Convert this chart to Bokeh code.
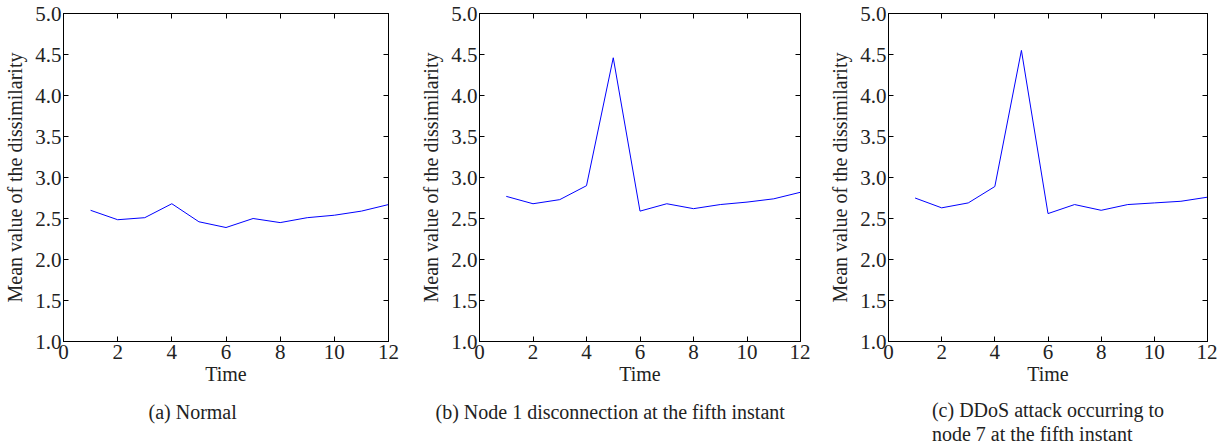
from bokeh.plotting import figure
from bokeh.layouts import row
from bokeh.models import (LinearAxis, FixedTicker, PrintfTickFormatter,
                          CustomJSTickFormatter, Range1d, Title)
from bokeh.embed import file_html
from bokeh.resources import INLINE

time = [1, 2, 3, 4, 5, 6, 7, 8, 9, 10, 11, 12]
normal = [2.60, 2.485, 2.51, 2.68, 2.46, 2.39, 2.50, 2.45, 2.51, 2.54, 2.59, 2.67]
node1_disconnect = [2.77, 2.68, 2.73, 2.90, 4.46, 2.59, 2.68, 2.62, 2.67, 2.70, 2.74, 2.82]
ddos_node7 = [2.75, 2.63, 2.69, 2.89, 4.55, 2.56, 2.67, 2.60, 2.67, 2.69, 2.71, 2.76]

x_ticks = [0, 2, 4, 6, 8, 10, 12]
y_ticks = [1.0, 1.5, 2.0, 2.5, 3.0, 3.5, 4.0, 4.5, 5.0]
x_label = "Time"
y_label = "Mean value of the dissimilarity"
captions = [
    "(a) Normal",
    "(b) Node 1 disconnection at the fifth instant",
    "(c) DDoS attack occurring to\nnode 7 at the fifth instant",
]
series = [normal, node1_disconnect, ddos_node7]

FONT = "Liberation Serif"
# (left border, frame width, right border, caption align, caption offset px, standoff)
panel_geom = [(63, 325, 12, "left", 85, 22),
              (79, 321, 10, "left", -44, 22),
              (78, 319, 10, "center", 0, 20)]

figs = []
for i, (vals, (lb, fw, rb, al, off, so)) in enumerate(zip(series, panel_geom)):
    p = figure(frame_width=fw, frame_height=328, output_backend="svg",
               toolbar_location=None, x_range=Range1d(0, 12),
               y_range=Range1d(1.0, 5.0), min_border_left=lb,
               min_border_right=rb, min_border_top=13, min_border_bottom=107,
               background_fill_color="white", border_fill_color="white")
    p.grid.visible = False
    p.outline_line_color = "black"
    p.outline_line_width = 1

    p.line(time, vals, line_color="#0000ff", line_width=1)

    for ax in (p.xaxis[0], p.yaxis[0]):
        ax.major_tick_in = 5
        ax.major_tick_out = 0
        ax.minor_tick_line_color = None
        ax.axis_line_color = "black"
        ax.major_tick_line_color = "black"
        ax.major_label_text_font = FONT
        ax.major_label_text_font_size = "21px"
        ax.major_label_text_color = "#222222"
        ax.axis_label_text_font = FONT
        ax.axis_label_text_font_size = "20px"
        ax.axis_label_text_font_style = "normal"
        ax.axis_label_text_color = "#222222"
    p.xaxis[0].ticker = FixedTicker(ticks=x_ticks)
    p.yaxis[0].ticker = FixedTicker(ticks=y_ticks)
    p.yaxis[0].formatter = PrintfTickFormatter(format="%.1f")
    p.xaxis[0].axis_label = x_label
    p.yaxis[0].axis_label = y_label
    p.xaxis[0].major_label_standoff = 3
    p.yaxis[0].major_label_standoff = 2
    p.xaxis[0].axis_label_standoff = 1
    p.yaxis[0].axis_label_standoff = 6

    top = LinearAxis(ticker=FixedTicker(ticks=x_ticks),
                     formatter=CustomJSTickFormatter(code="return ''"))
    right = LinearAxis(ticker=FixedTicker(ticks=y_ticks),
                       formatter=CustomJSTickFormatter(code="return ''"))
    for ax in (top, right):
        ax.major_tick_in = 5
        ax.major_tick_out = 0
        ax.minor_tick_line_color = None
        ax.axis_line_color = "black"
        ax.major_tick_line_color = "black"
        ax.major_label_text_font_size = "0px"
        ax.major_label_standoff = 0
    p.add_layout(top, "above")
    p.add_layout(right, "right")

    t = Title(text=captions[i], align=al, offset=off,
              text_font=FONT, text_font_size="20px",
              text_font_style="normal", text_color="#222222",
              text_line_height=1.1, standoff=so)
    p.add_layout(t, "below")
    figs.append(p)

layout = row(*figs, spacing=0)
open("out.html", "w").write(file_html(layout, INLINE))
